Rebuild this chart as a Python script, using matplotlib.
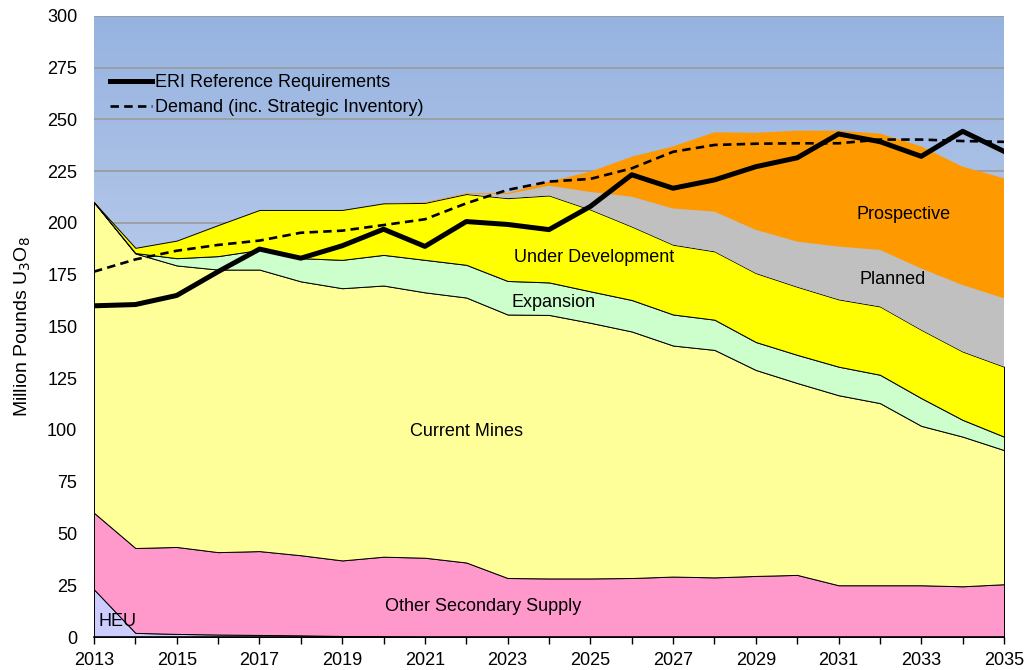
import numpy as np
import matplotlib
matplotlib.use("Agg")
import matplotlib.pyplot as plt
from matplotlib.colors import LinearSegmentedColormap
from matplotlib.ticker import MultipleLocator

plt.rcParams["font.family"] = ["Liberation Sans", "DejaVu Sans"]

years = np.arange(2013, 2036)

# supply layers (million lb U3O8), bottom to top
heu = [23, 2, 1.5, 1.2, 1.0, 0.8, 0.5, 0.3, 0, 0, 0, 0, 0, 0, 0, 0, 0, 0, 0, 0, 0, 0, 0]
other_secondary = [37, 41, 42, 39.8, 40.5, 38.7, 36.5, 38.5, 38.3, 36, 28.5, 28.3, 28.3,
                   28.5, 29.2, 28.8, 29.5, 30, 25, 25, 25, 24.5, 25.5]
current_mines = [150, 142.3, 136, 136.5, 136, 132.3, 131.5, 131, 128.2, 128, 127.3, 127.3,
                 123.5, 119.1, 111.6, 109.9, 99.5, 92.7, 91.8, 88, 77, 72.3, 64.8]
expansion = [0, 0.2, 3.5, 6.5, 9.5, 11.2, 13.7, 14.8, 15.7, 15.8, 16.2, 15.7, 15.2, 15.2,
             15, 14.6, 13.5, 13.6, 13.8, 13.7, 13.4, 8.1, 6.5]
under_development = [0, 2.5, 8.5, 15, 19.3, 23.3, 24.1, 24.9, 27.5, 34.2, 40, 42, 39.5,
                     35.5, 33.7, 33, 33.3, 32.9, 32.5, 33, 33, 33, 33.8]
planned = [0, 0, 0, 0, 0, 0, 0, 0, 0, 0, 2, 4.7, 8.5, 14.4, 17.5, 19.2, 20.9, 21.8, 25.5,
           27.3, 29.6, 32.1, 33]
prospective = [0, 0, 0, 0, 0, 0, 0, 0, 0.3, 0.3, 0.5, 2, 9.8, 19.3, 30, 38.3, 46.9, 53.6,
               56, 56.2, 59, 57.2, 58]

eri_requirements = [160, 160.6, 165, 176.5, 187.4, 183, 189, 197, 188.7, 200.7, 199.3,
                    196.8, 208, 223.3, 216.8, 220.8, 227.2, 231.5, 243, 239.3, 232.2,
                    244.3, 234.6]
demand = [176.5, 182.4, 186.6, 189.4, 191.5, 195.3, 196.3, 199, 201.8, 209.5, 216, 220,
          221.3, 226.4, 234.4, 237.7, 238.3, 238.5, 238.5, 240.3, 240.3, 239.6, 239.2]

layers = [heu, other_secondary, current_mines, expansion, under_development, planned, prospective]
colors = ["#CCCCFF", "#FF99CC", "#FFFF99", "#CCFFCC", "#FFFF00", "#C0C0C0", "#FF9900"]

fig = plt.figure(figsize=(10.24, 6.70), dpi=100)
ax = fig.add_axes([94 / 1024, 1 - 637 / 670, 910 / 1024, 621 / 670])

# gradient plot background
bg = LinearSegmentedColormap.from_list("bg", ["#E2E7F6", "#96B3E0"])
ax.imshow(np.linspace(0, 1, 256).reshape(-1, 1), cmap=bg, origin="lower",
          extent=[2013, 2035, 0, 300], aspect="auto", zorder=0)
for yv in range(25, 301, 25):
    ax.axhline(yv, color="#9A9A9A", lw=1.2, zorder=0.5)

polys = ax.stackplot(years, *layers, colors=colors, zorder=1,
                     edgecolor="black", linewidth=0.7)
for p in polys[5:]:
    p.set_edgecolor("none")

ax.plot(years, eri_requirements, color="black", lw=3.6, zorder=3,
        label="ERI Reference Requirements")
ax.plot(years, demand, color="black", lw=1.9, ls=(0, (3.2, 2)), zorder=3,
        label="Demand (inc. Strategic Inventory)")

labels = [
    ("HEU", 2013.12, 7.4, "left"),
    ("Other Secondary Supply", 2022.4, 14.5, "center"),
    ("Current Mines", 2022.0, 99.5, "center"),
    ("Expansion", 2024.12, 161.8, "center"),
    ("Under Development", 2025.1, 183.1, "center"),
    ("Planned", 2032.3, 172.5, "center"),
    ("Prospective", 2032.57, 204, "center"),
]
for txt, x, y, ha in labels:
    ax.text(x, y, txt, ha=ha, va="center", fontsize=13, color="black", zorder=4)

ax.set_xlim(2013, 2035)
ax.set_ylim(0, 300)
ax.set_xticks(range(2013, 2036, 2))
ax.set_xticks(years, minor=True)
ax.yaxis.set_major_locator(MultipleLocator(25))
ax.tick_params(axis="x", which="both", length=5, width=1, direction="out",
               labelsize=13, pad=6)
ax.tick_params(axis="y", length=0, labelsize=13, pad=12)
for s in ("top", "right", "left"):
    ax.spines[s].set_visible(False)
ax.spines["bottom"].set_linewidth(1.2)
ax.spines["bottom"].set_zorder(5)

ax.set_ylabel("Million Pounds U$_3$O$_8$", fontsize=14, labelpad=10)

leg = ax.legend(loc="upper left", bbox_to_anchor=(0.01, 0.918), frameon=False,
                fontsize=13, handlelength=2.3, handletextpad=0.2, labelspacing=0.45,
                borderaxespad=0)

fig.savefig("out.png", dpi=100)
